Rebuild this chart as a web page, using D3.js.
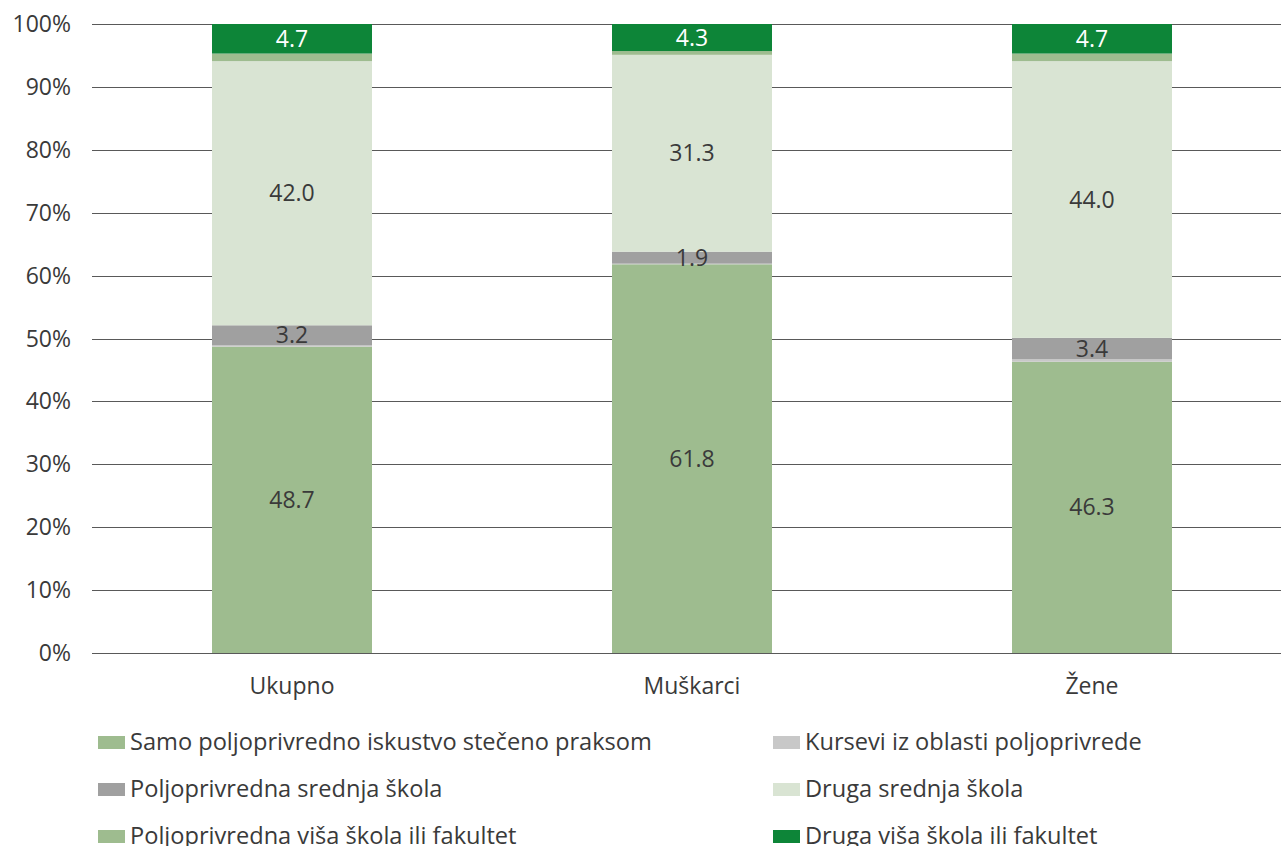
<!DOCTYPE html>
<html><head><meta charset="utf-8">
<script src="https://cdn.jsdelivr.net/npm/d3@7/dist/d3.min.js"></script>
<style>body{margin:0;background:#fff;} svg{display:block;font-family:"Open Sans","Noto Sans",sans-serif;}</style>
</head><body>
<svg id="c" width="1281" height="846"></svg>
<script>
const categories = ["Ukupno", "Muškarci", "Žene"];
const seriesNames = [
  "Samo poljoprivredno iskustvo stečeno praksom",
  "Kursevi iz oblasti poljoprivrede",
  "Poljoprivredna srednja škola",
  "Druga srednja škola",
  "Poljoprivredna viša škola ili fakultet",
  "Druga viša škola ili fakultet"
];
const samoPraksa = [48.7, 61.8, 46.3];
const kursevi = [0.2, 0.1, 0.4];
const poljSrednja = [3.2, 1.9, 3.4];
const drugaSrednja = [42.0, 31.3, 44.0];
const poljVisa = [1.2, 0.6, 1.2];
const drugaVisa = [4.7, 4.3, 4.7];
const showLabel = [true, false, true, true, false, true];
const yTicks = [0, 10, 20, 30, 40, 50, 60, 70, 80, 90, 100];
const colors = ["#9ebc8f", "#c8c8c8", "#a0a0a0", "#d9e4d3", "#9ebc8f", "#0d8538"];
const labelColors = ["#3a3a3a", "#3a3a3a", "#3a3a3a", "#3a3a3a", "#3a3a3a", "#ffffff"];

const seriesVals = [samoPraksa, kursevi, poljSrednja, drugaSrednja, poljVisa, drugaVisa];
const keys = seriesNames;
const table = categories.map((c, i) => {
  const o = {cat: c};
  keys.forEach((k, j) => o[k] = seriesVals[j][i]);
  return o;
});
const stacked = d3.stack().keys(keys)(table);

const svg = d3.select("#c");
const x = d3.scaleBand().domain(categories).range([92, 1292]).paddingInner(0.6).paddingOuter(0.3);
const y = d3.scaleLinear().domain([0, 100]).range([653, 24]);

// gridlines
svg.append("g").selectAll("line").data(yTicks).join("line")
  .attr("x1", 92).attr("x2", 1281)
  .attr("y1", d => Math.round(y(d)) + 0.5).attr("y2", d => Math.round(y(d)) + 0.5)
  .attr("stroke", "#595959").attr("stroke-width", 1);

// y axis labels
svg.append("g").selectAll("text").data(yTicks).join("text")
  .attr("x", 71).attr("y", d => y(d)).attr("dy", "0.35em")
  .attr("text-anchor", "end").attr("font-size", 23).attr("fill", "#3a3a3a")
  .text(d => d + "%");

// bars
const gs = svg.append("g").selectAll("g").data(stacked).join("g")
  .attr("fill", (d, i) => colors[i]);
gs.selectAll("rect").data(d => d).join("rect")
  .attr("x", d => x(d.data.cat))
  .attr("width", x.bandwidth())
  .attr("y", d => y(d[1]))
  .attr("height", d => y(d[0]) - y(d[1]));

// labels
stacked.forEach((s, i) => {
  if (!showLabel[i]) return;
  svg.append("g").selectAll("text").data(s).join("text")
    .attr("x", d => x(d.data.cat) + x.bandwidth() / 2)
    .attr("y", d => y((d[0] + d[1]) / 2))
    .attr("dy", "0.35em")
    .attr("text-anchor", "middle").attr("font-size", 23)
    .attr("fill", labelColors[i])
    .text(d => (d[1] - d[0]).toFixed(1));
});

// x labels
svg.append("g").selectAll("text").data(categories).join("text")
  .attr("x", d => x(d) + x.bandwidth() / 2).attr("y", 686).attr("dy", "0.35em")
  .attr("text-anchor", "middle").attr("font-size", 23).attr("fill", "#3a3a3a")
  .text(d => d);

// legend
const legX = [98, 773];
const legY = [742, 789, 836];
const leg = svg.append("g").selectAll("g").data(seriesNames).join("g")
  .attr("transform", (d, i) => `translate(${legX[i % 2]},${legY[Math.floor(i / 2)]})`);
leg.append("rect").attr("x", 0).attr("y", -6).attr("width", 27).attr("height", 13)
  .attr("fill", (d, i) => colors[i]);
leg.append("text").attr("x", 32).attr("y", 0).attr("dy", "0.35em")
  .attr("font-size", 23.6).attr("fill", "#3a3a3a").text(d => d);
</script>
</body></html>
